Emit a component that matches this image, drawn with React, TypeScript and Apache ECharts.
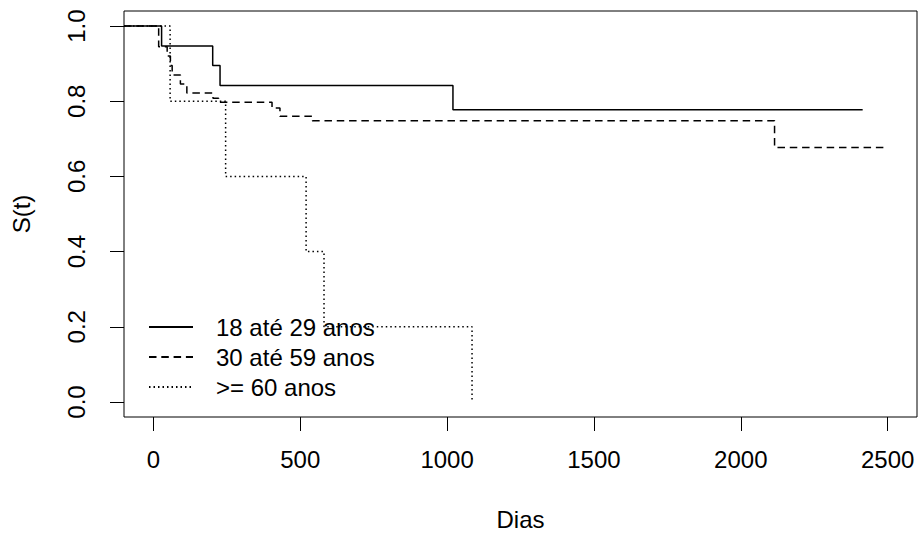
import React, { useEffect, useRef } from "react";
import * as echarts from "echarts";

const SERIES_NAMES = ["18 até 29 anos", "30 até 59 anos", ">= 60 anos"];

const DAYS_18_29 = [-100, 28, 202, 227, 1020, 2415];
const S_18_29 = [1, 0.947, 0.895, 0.842, 0.777, 0.777];

const DAYS_30_59 = [-100, 18, 47, 58, 64, 92, 114, 203, 222, 404, 431, 541, 2115, 2497];
const S_30_59 = [1, 0.945, 0.92, 0.895, 0.87, 0.846, 0.822, 0.808, 0.797, 0.782, 0.76, 0.748, 0.677, 0.677];

const DAYS_60 = [-100, 57, 246, 520, 581, 1085];
const S_60 = [1, 0.8, 0.6, 0.4, 0.2, 0];

const X_TICKS = [0, 500, 1000, 1500, 2000, 2500];
const Y_TICKS = [0, 0.2, 0.4, 0.6, 0.8, 1.0];

const X_MIN = -100;
const X_MAX = 2600;
const Y_MIN = -0.04;
const Y_MAX = 1.04;

const FONT = "'Liberation Sans', Arial, sans-serif";
const FS = 24;

function zip(xs: number[], ys: number[]) {
  return xs.map((x, i) => [x, ys[i]]);
}

export default function App() {
  const ref = useRef<HTMLDivElement>(null);
  useEffect(() => {
    if (!ref.current) return;
    const chart = echarts.init(ref.current, null, { renderer: "svg" });
    const lineBase = { color: "#000", width: 1.5 };
    chart.setOption({
      animation: false,
      backgroundColor: "#fff",
      grid: {
        left: 124,
        top: 11,
        width: 793,
        height: 406,
        show: true,
        borderColor: "#000",
        borderWidth: 1,
        containLabel: false,
        outerBoundsMode: "none",
      },
      legend: {
        orient: "vertical",
        left: 148,
        top: 315,
        padding: 0,
        itemWidth: 44,
        itemHeight: 14,
        itemGap: 6,
        selectedMode: false,
        itemStyle: { color: "transparent", borderColor: "transparent", borderWidth: 0, opacity: 0 },
        textStyle: {
          fontFamily: FONT,
          fontSize: FS,
          color: "#000",
          lineHeight: 24,
          padding: [0, 0, 0, 18],
        },
        data: SERIES_NAMES.map((n) => ({ name: n })),
      },
      xAxis: {
        type: "value",
        min: X_MIN,
        max: X_MAX,
        splitLine: { show: false },
        axisLine: { show: false, onZero: false },
        axisTick: {
          show: true,
          inside: false,
          length: 14,
          lineStyle: { color: "#000", width: 1 },
          customValues: X_TICKS,
        },
        axisLabel: {
          customValues: X_TICKS,
          margin: 30,
          fontFamily: FONT,
          fontSize: FS,
          color: "#000",
          formatter: (v: number) => String(v),
        },
        name: "Dias",
        nameLocation: "middle",
        nameGap: 90,
        nameTextStyle: { fontFamily: FONT, fontSize: FS, color: "#000" },
      },
      yAxis: {
        type: "value",
        min: Y_MIN,
        max: Y_MAX,
        splitLine: { show: false },
        axisLine: { show: false, onZero: false },
        axisTick: {
          show: true,
          inside: false,
          length: 14,
          lineStyle: { color: "#000", width: 1 },
          customValues: Y_TICKS,
        },
        axisLabel: {
          customValues: Y_TICKS,
          rotate: 90,
          margin: 36,
          fontFamily: FONT,
          fontSize: FS,
          color: "#000",
          formatter: (v: number) => v.toFixed(1),
        },
        name: "S(t)",
        nameLocation: "middle",
        nameRotate: 90,
        nameGap: 91,
        nameTextStyle: { fontFamily: FONT, fontSize: FS, color: "#000" },
      },
      series: [
        {
          name: SERIES_NAMES[0],
          type: "line",
          step: "end",
          symbol: "none",
          lineStyle: { ...lineBase, type: "solid" },
          itemStyle: { color: "#000" },
          data: zip(DAYS_18_29, S_18_29),
        },
        {
          name: SERIES_NAMES[1],
          type: "line",
          step: "end",
          symbol: "none",
          lineStyle: { ...lineBase, type: [7.5, 4.8] },
          itemStyle: { color: "#000" },
          data: zip(DAYS_30_59, S_30_59),
        },
        {
          name: SERIES_NAMES[2],
          type: "line",
          step: "end",
          symbol: "none",
          lineStyle: { ...lineBase, type: [1.5, 3] },
          itemStyle: { color: "#000" },
          data: zip(DAYS_60, S_60),
        },
      ],
    });
    return () => chart.dispose();
  }, []);
  return (
    <div
      ref={ref}
      style={{ position: "fixed", left: 0, top: 0, width: 918, height: 537, background: "#fff" }}
    />
  );
}
